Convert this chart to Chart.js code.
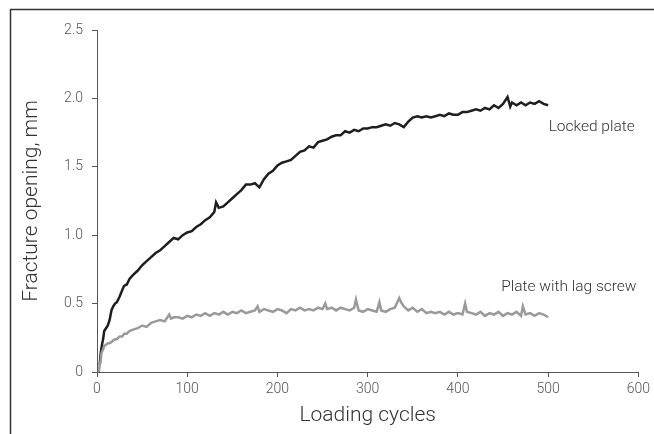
<!DOCTYPE html>
<html>
<head>
<meta charset="utf-8">
<script src="https://cdn.jsdelivr.net/npm/chart.js@4/dist/chart.umd.min.js"></script>
<style>
html,body{margin:0;padding:0;background:#fff;}
#wrap{width:654px;height:434px;position:relative;}
</style>
</head>
<body>
<div id="wrap"><canvas id="c" width="654" height="434"></canvas></div>
<script>
// ---- data ----
const lockedCycles = [3,4,5,7,8,10,12,14,16,18,20,22,25,28,30,33,36,
  40,45,50,55,60,65,70,75,80,85,90,95,100,105,110,115,120,125,130,132,135,140,145,150,155,160,165,170,175,180,185,190,195,
  200,205,210,215,220,225,230,235,240,245,250,255,260,265,270,275,280,285,290,295,
  300,305,310,315,320,325,330,335,340,345,350,355,360,365,370,375,380,385,390,395,
  400,405,410,415,420,425,430,435,440,445,450,455,458,460,465,470,475,480,485,490,495,500];
const lockedValues = [0.05,0.13,0.18,0.25,0.30,0.32,0.34,0.38,0.45,0.48,0.50,0.51,0.55,0.60,0.63,0.64,0.68,
  0.71,0.74,0.78,0.81,0.84,0.87,0.89,0.92,0.95,0.98,0.97,1.00,1.02,1.03,1.06,1.08,1.11,1.13,1.17,1.24,1.20,1.21,1.24,1.27,1.30,1.33,1.37,1.37,1.38,1.35,1.41,1.45,1.47,
  1.51,1.53,1.54,1.55,1.58,1.61,1.62,1.65,1.64,1.68,1.69,1.70,1.72,1.73,1.73,1.76,1.75,1.77,1.76,1.78,
  1.78,1.79,1.79,1.80,1.81,1.80,1.82,1.81,1.79,1.83,1.86,1.87,1.86,1.87,1.86,1.87,1.88,1.87,1.89,1.88,
  1.88,1.90,1.90,1.91,1.92,1.91,1.93,1.92,1.95,1.93,1.96,2.01,1.94,1.97,1.95,1.97,1.95,1.97,1.96,1.98,1.96,1.95];

const lagCycles = [2,3,4,5,7,8,10,12,14,16,18,20,22,25,28,30,33,36,
  40,45,50,55,60,65,70,75,80,82,85,90,95,100,105,110,115,120,125,130,135,140,145,150,155,160,165,170,175,178,180,185,190,195,
  200,205,210,215,220,225,230,235,240,245,250,253,255,260,265,270,275,280,285,287,290,295,
  300,305,310,313,315,320,325,330,335,337,340,345,350,355,360,365,370,375,380,385,390,395,
  400,405,408,410,415,420,425,430,435,440,445,450,455,460,465,470,472,475,480,485,490,495,500];
const lagValues = [0.00,0.05,0.08,0.14,0.17,0.19,0.20,0.21,0.21,0.22,0.23,0.24,0.24,0.26,0.26,0.28,0.28,0.30,
  0.31,0.32,0.34,0.33,0.36,0.37,0.38,0.37,0.42,0.39,0.40,0.40,0.39,0.41,0.40,0.42,0.41,0.43,0.41,0.43,0.42,0.44,0.42,0.44,0.43,0.45,0.43,0.44,0.45,0.48,0.44,0.46,0.45,0.44,
  0.46,0.45,0.43,0.46,0.45,0.47,0.45,0.46,0.45,0.47,0.46,0.50,0.46,0.47,0.45,0.47,0.46,0.45,0.47,0.53,0.45,0.44,
  0.46,0.45,0.44,0.51,0.45,0.44,0.46,0.47,0.54,0.51,0.48,0.45,0.47,0.44,0.46,0.43,0.44,0.43,0.44,0.42,0.44,0.42,
  0.43,0.42,0.50,0.44,0.43,0.42,0.44,0.41,0.43,0.42,0.44,0.41,0.43,0.42,0.44,0.41,0.48,0.42,0.43,0.41,0.43,0.42,0.40];

const seriesNames = ['Locked plate','Plate with lag screw'];
const xTitle = 'Loading cycles';
const yTitle = 'Fracture opening, mm';
const xTicks = [0,100,200,300,400,500,600];
const yTicks = [0,0.5,1.0,1.5,2.0,2.5];
// label anchors in data units (right-aligned)
const labelAnchors = [{x:596,y:1.79},{x:598,y:0.62}];

const toPts = (xs, ys) => xs.map((x,i)=>({x:x,y:ys[i]}));

const FONT = "'Roboto','Liberation Sans',Arial,sans-serif";

const decor = {
  id:'decor',
  afterDraw(chart){
    const ctx = chart.ctx;
    ctx.save();
    // outer frame (left + top)
    ctx.strokeStyle = '#333';
    ctx.lineWidth = 1.5;
    ctx.beginPath();
    ctx.moveTo(10.5, 434);
    ctx.lineTo(10.5, 9.5);
    ctx.lineTo(654, 9.5);
    ctx.stroke();
    // series labels
    const xs = chart.scales.x, ys = chart.scales.y;
    ctx.fillStyle = '#333';
    ctx.font = '300 15.5px ' + FONT;
    ctx.textAlign = 'right';
    ctx.textBaseline = 'middle';
    labelAnchors.forEach((a,i)=>{
      ctx.fillText(seriesNames[i], xs.getPixelForValue(a.x), ys.getPixelForValue(a.y));
    });
    ctx.restore();
  }
};

new Chart(document.getElementById('c'), {
  type:'line',
  data:{
    datasets:[
      {label:seriesNames[1], data:toPts(lagCycles,lagValues), borderColor:'#9a9a9a', borderWidth:2.5, pointRadius:0, tension:0, fill:false},
      {label:seriesNames[0], data:toPts(lockedCycles,lockedValues), borderColor:'#1e1e1e', borderWidth:2.5, pointRadius:0, tension:0, fill:false}
    ]
  },
  options:{
    responsive:false,
    animation:false,
    layout:{padding:{top:30,right:13,bottom:0,left:0}},
    plugins:{legend:{display:false}, tooltip:{enabled:false}},
    scales:{
      x:{
        type:'linear', min:0, max:600,
        afterBuildTicks(s){ s.ticks = xTicks.map(v=>({value:v})); },
        afterFit(s){ s.height = 62; },
        grid:{drawOnChartArea:false, drawTicks:true, tickLength:5, color:'#555'},
        border:{display:true, color:'#555', width:1},
        ticks:{color:'#555', padding:4, maxRotation:0, font:{family:FONT, size:14, weight:'300'}, callback:v=>String(v)},
        title:{display:true, text:xTitle, color:'#333', font:{family:FONT, size:21, weight:'300'}, padding:{top:0,bottom:6}}
      },
      y:{
        type:'linear', min:0, max:2.5,
        afterBuildTicks(s){ s.ticks = yTicks.map(v=>({value:v})); },
        afterFit(s){ s.width = 97; },
        grid:{drawOnChartArea:false, drawTicks:true, tickLength:5, color:'#555'},
        border:{display:true, color:'#555', width:1},
        ticks:{color:'#555', padding:9, font:{family:FONT, size:14, weight:'300'}, callback:v=> v===0 ? '0' : Number(v).toFixed(1)},
        title:{display:true, text:yTitle, color:'#333', font:{family:FONT, size:21, weight:'300'}, padding:{top:19,bottom:0}}
      }
    }
  },
  plugins:[decor]
});
</script>
</body>
</html>
